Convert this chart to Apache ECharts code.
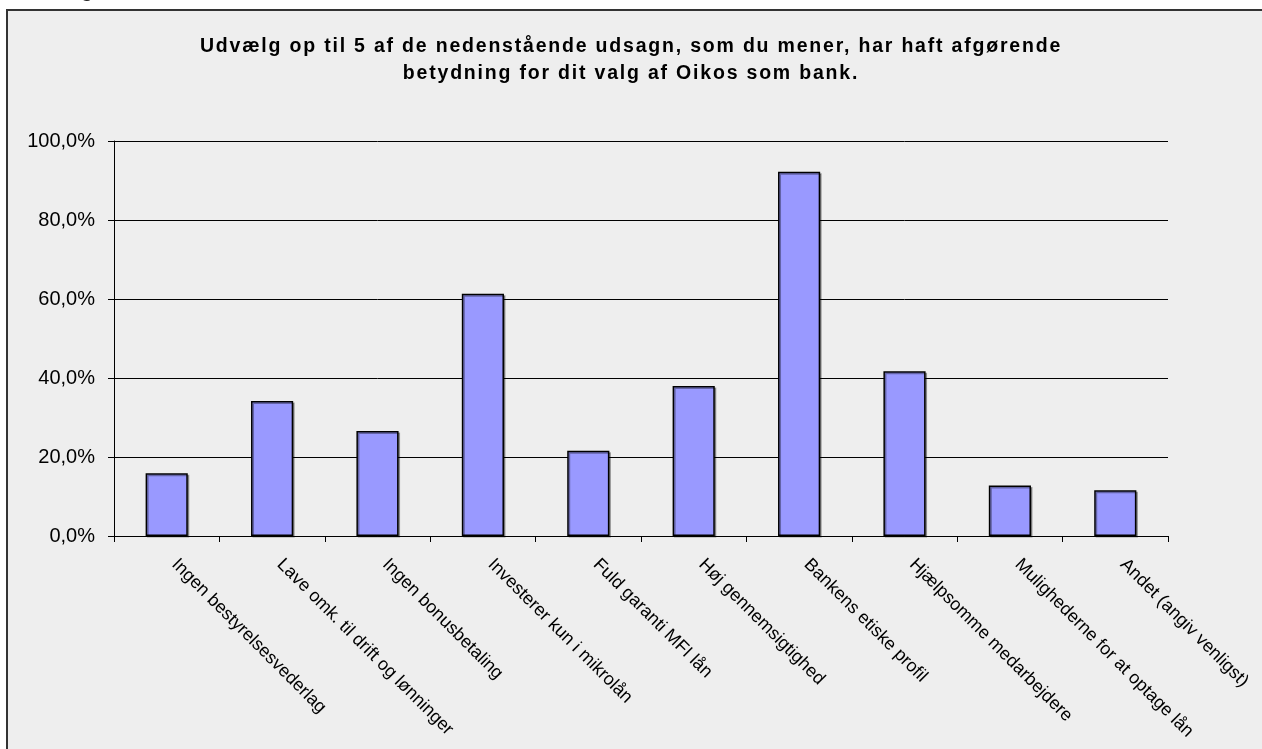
<!DOCTYPE html>
<html>
<head>
<meta charset="utf-8">
<script src="https://cdn.jsdelivr.net/npm/echarts@6/dist/echarts.min.js"></script>
<style>
html,body{margin:0;padding:0;background:#ffffff;}
#c{width:1262px;height:749px;}
</style>
</head>
<body>
<div id="c"></div>
<script>
const titleText = 'Udvælg op til 5 af de nedenstående udsagn, som du mener, har haft afgørende\nbetydning for dit valg af Oikos som bank.';
const categories = [
  'Ingen bestyrelsesvederlag',
  'Lave omk. til drift og lønninger',
  'Ingen bonusbetaling',
  'Investerer kun i mikrolån',
  'Fuld garanti MFI lån',
  'Høj gennemsigtighed',
  'Bankens etiske profil',
  'Hjælpsomme medarbejdere',
  'Mulighederne for at optage lån',
  'Andet (angiv venligst)'
];
const values = [15.9, 34.2, 26.6, 61.3, 21.6, 38.0, 92.2, 41.7, 12.8, 11.6];
const yTicks = [0, 20, 40, 60, 80, 100];

// letter spacing for bold (title) text on canvas
(function(){
  const P = CanvasRenderingContext2D.prototype;
  const of = P.fillText;
  P.fillText = function(t, x, y, m){
    if (/bold/.test(this.font)) { this.letterSpacing = '1.8px'; }
    else { this.letterSpacing = '0px'; }
    return m === undefined ? of.call(this, t, x, y) : of.call(this, t, x, y, m);
  };
})();

const chart = echarts.init(document.getElementById('c'), null, {renderer:'canvas'});
chart.setOption({
  backgroundColor: '#ffffff',
  animation: false,
  graphic: [
    {type:'rect', shape:{x:7, y:10, width:1300, height:800}, style:{fill:'#eeeeee', stroke:'#333333', lineWidth:2}, z:-10},
    {type:'text', x:81, y:-19, style:{text:'g', font:'bold 20px "Liberation Sans", Arial, sans-serif', fill:'#222'}, z:-5}
  ],
  title: {
    text: titleText,
    left: 'center',
    top: 28,
    textStyle: {fontFamily:'"Liberation Sans", Arial, sans-serif', fontWeight:'bold', fontSize:19.5, lineHeight:27, color:'#000'}
  },
  grid: {left:114, right:94, top:141, bottom:213, containLabel:false},
  xAxis: {
    type:'category',
    data: categories,
    boundaryGap: true,
    axisLine: {lineStyle:{color:'#000', width:1}},
    axisTick: {show:true, length:6, lineStyle:{color:'#000'}},
    axisLabel: {rotate:-45, interval:0, margin:18, padding:[0,0,0,11], color:'#000', fontSize:18, fontFamily:'"Liberation Sans", Arial, sans-serif'}
  },
  yAxis: {
    type:'value',
    min: yTicks[0],
    max: yTicks[yTicks.length-1],
    interval: 20,
    axisLine: {show:true, lineStyle:{color:'#000', width:1}},
    axisTick: {show:true, inside:false, length:6, lineStyle:{color:'#000'}},
    splitLine: {show:true, lineStyle:{color:'#000', width:1}},
    axisLabel: {
      margin:19, color:'#000', fontSize:20, fontFamily:'"Liberation Sans", Arial, sans-serif',
      formatter: v => v.toFixed(1).replace('.', ',') + '%'
    }
  },
  series: [{
    type:'bar',
    data: values,
    barWidth: '40%',
    itemStyle: {color:'#9999ff', borderColor:'#000', borderWidth:1.5,
      shadowColor:'rgba(0,0,0,0.35)', shadowOffsetX:1.5, shadowOffsetY:1.5, shadowBlur:0}
  }]
});
</script>
</body>
</html>
